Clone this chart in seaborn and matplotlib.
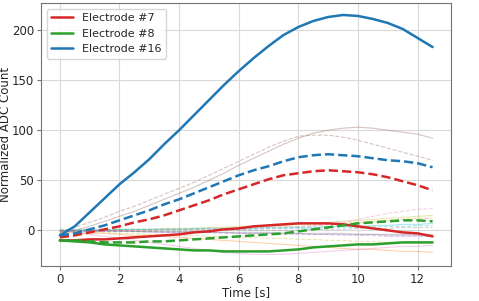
import matplotlib
matplotlib.use("Agg")
import matplotlib.pyplot as plt
import seaborn as sns
import numpy as np
import pandas as pd

# sample times [s]
time = np.arange(0, 12.51, 0.5)

# highlighted electrodes (solid = first run, dashed = second run)
e16_solid = [-5, 4, 18, 32, 46, 58, 71, 86, 100, 115, 130, 145, 159, 172, 184, 195,
             203, 209, 213, 215, 214, 211, 207, 201, 192, 183]
e16_dashed = [-5, -3, 1, 5, 10, 15, 20, 26, 31, 37, 43, 49, 55, 60, 64, 69,
              73, 75, 76, 75, 74, 72, 70, 69, 67, 63]
e7_solid = [-10, -10, -9, -9, -8, -7, -6, -5, -4, -2, -1, 1, 2, 4, 5, 6,
            7, 7, 7, 6, 4, 2, 0, -2, -3, -6]
e7_dashed = [-7, -5, -2, 1, 4, 8, 11, 15, 20, 25, 30, 36, 41, 46, 51, 55,
             57, 59, 60, 59, 58, 56, 53, 49, 45, 40]
e8_solid = [-10, -11, -12, -14, -15, -16, -17, -18, -19, -20, -20, -21, -21, -21, -21, -20,
            -19, -17, -16, -15, -14, -14, -13, -12, -12, -12]
e8_dashed = [-10, -10, -11, -12, -12, -12, -11, -11, -10, -9, -8, -7, -6, -5, -4, -3,
             -1, 1, 3, 5, 7, 8, 9, 10, 10, 9]

# other electrodes, drawn faint in the background
others = {
    "tab:brown": (
        [-3, 0, 4, 9, 14, 19, 25, 31, 37, 43, 50, 57, 65, 72, 79, 86,
         92, 97, 100, 102, 103, 102, 100, 98, 96, 92],
        [-2, 3, 8, 13, 19, 24, 30, 36, 42, 48, 55, 62, 69, 76, 83, 89,
         94, 95, 95, 93, 90, 86, 82, 78, 74, 70]),
    "tab:orange": (
        [-2, -2, -3, -3, -4, -5, -5, -6, -7, -8, -9, -10, -11, -12, -13, -14,
         -15, -16, -17, -18, -19, -19, -20, -21, -21, -22],
        [-1, -1, -1, 0, 0, 0, 0, 1, 1, 1, 2, 2, 2, 3, 3, 4,
         4, 5, 6, 7, 8, 9, 10, 11, 12, 12]),
    "tab:pink": (
        [0, -2, -4, -6, -8, -10, -12, -14, -16, -18, -20, -22, -23, -24, -24, -24,
         -23, -22, -21, -20, -19, -18, -17, -16, -16, -15],
        [0, 0, 0, 0, 0, 1, 1, 1, 1, 1, 1, 1, 1, 2, 2, 2,
         3, 4, 6, 8, 11, 14, 17, 19, 21, 22]),
    "tab:olive": (
        [0, 0, 0, 0, 1, 1, 1, 2, 2, 2, 3, 3, 4, 4, 5, 5,
         6, 7, 8, 9, 10, 11, 12, 13, 14, 15],
        [-1, -1, -2, -2, -3, -3, -4, -4, -5, -5, -6, -6, -7, -7, -8, -8,
         -9, -9, -10, -10, -11, -11, -12, -12, -13, -13]),
    "tab:cyan": (
        [0, 0, 0, 0, 1, 1, 1, 1, 1, 2, 2, 2, 2, 2, 3, 3,
         3, 3, 4, 4, 4, 5, 5, 6, 6, 7],
        [1, 1, 1, 1, 1, 1, 1, 1, 1, 1, 1, 1, 1, 1, 2, 2,
         2, 2, 3, 3, 3, 4, 4, 4, 5, 5]),
    "tab:purple": (
        [-1, -1, -1, -1, -1, -1, -2, -2, -2, -2, -2, -2, -3, -3, -3, -3,
         -3, -4, -4, -4, -4, -4, -5, -5, -5, -5],
        [0, 0, 0, -1, -1, -1, -1, -2, -2, -2, -2, -3, -3, -3, -3, -4,
         -4, -4, -4, -5, -5, -5, -6, -6, -6, -6]),
    "tab:gray": (
        [0, 0, 0, 0, 0, -1, -1, -1, -1, -1, -2, -2, -2, -2, -2, -3,
         -3, -3, -3, -3, -4, -4, -4, -4, -4, -4],
        [-1, -1, -1, -1, -1, -1, -1, -1, -1, -1, 0, 0, 0, 0, 0, 0,
         0, 1, 1, 1, 2, 2, 2, 3, 3, 3]),
}

sns.set_style("whitegrid", {"axes.edgecolor": "0.45", "grid.color": "0.85",
                            "xtick.bottom": True, "ytick.left": True})
plt.rcParams["xtick.color"] = "0.45"
plt.rcParams["ytick.color"] = "0.45"
plt.rcParams["xtick.labelcolor"] = "0.15"
plt.rcParams["ytick.labelcolor"] = "0.15"

fig, ax = plt.subplots(figsize=(4.79, 3.01), dpi=100)

# background electrodes
for color, (solid, dashed) in others.items():
    sns.lineplot(x=time, y=solid, color=color, alpha=0.35, lw=0.8, ax=ax)
    sns.lineplot(x=time, y=dashed, color=color, alpha=0.35, lw=0.8, ls="--", ax=ax)

# highlighted electrodes
highlight = [("Electrode #7", "tab:red", e7_solid, e7_dashed),
             ("Electrode #8", "tab:green", e8_solid, e8_dashed),
             ("Electrode #16", "tab:blue", e16_solid, e16_dashed)]
for name, color, solid, dashed in highlight:
    sns.lineplot(x=time, y=solid, color=color, lw=1.8, label=name, ax=ax)
    sns.lineplot(x=time, y=dashed, color=color, lw=1.8, ls="--", ax=ax)

ax.set_xticks([0, 2, 4, 6, 8, 10, 12])
ax.set_yticks([0, 50, 100, 150, 200])
ax.tick_params(labelsize=8.5, length=3, width=0.8, pad=2)
ax.set_xlabel("Time [s]", fontsize=8.5, labelpad=0)
ax.set_ylabel("Normalized ADC Count", fontsize=8.5, labelpad=0)
ax.legend(loc="upper left", fontsize=8)

plt.subplots_adjust(left=0.086, right=0.942, top=0.99, bottom=0.115)
plt.savefig("out.png", dpi=100)
